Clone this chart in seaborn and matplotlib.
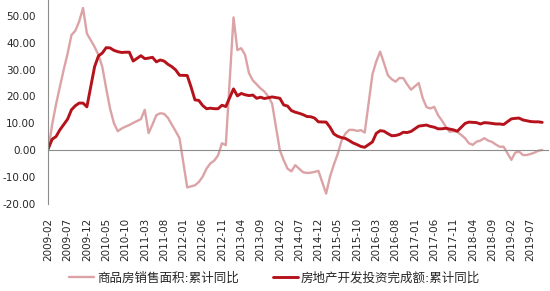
import matplotlib
matplotlib.use("Agg")
import matplotlib.pyplot as plt
import pandas as pd
import seaborn as sns

# ---- data -------------------------------------------------------------
# monthly observations (January is not published; Jan-Feb is combined)
months = [f"{y}-{m:02d}" for y in range(2009, 2020) for m in range(2, 13)][:119]

sales_area_yoy = [
    0, 9.5, 17, 23.6, 30, 36, 42.9, 44.5, 48, 53, 43.5,            # 2009
    38.5, 35.5, 31, 23, 15.5, 10, 7, 8, 8.7, 9.3, 10.1,             # 2010
    11.5, 15, 6.3, 9.5, 13, 13.7, 13.5, 12, 9.5, 7, 4.4,            # 2011
    -14, -13.6, -13.2, -12, -10, -7, -5, -4, -2, 2.5, 1.8,          # 2012
    49.5, 37.3, 38, 35.5, 28.7, 26, 24.5, 23, 21.8, 20, 17.3,       # 2013
    -0.1, -3.8, -7, -8, -5.7, -7, -8.3, -8.6, -8.5, -8.2, -7.8,     # 2014
    -16.3, -10, -5.5, -1.5, 3.5, 6.1, 7.5, 7.5, 7.1, 7.4, 6.5,      # 2015
    28.2, 33.1, 36.7, 32.4, 27.9, 26.4, 25.5, 26.9, 26.8, 24.5, 22.5,  # 2016
    25, 19.5, 16, 15.5, 16.1, 13, 11, 8.7, 6.8, 7, 6.8,             # 2017
    4.4, 2.5, 1.9, 3.1, 3.5, 4.4, 3.5, 3, 2, 1.2, 1.2,              # 2018
    -3.7, -1, -0.6, -1.9, -1.9, -1.5, -1, -0.3, 0,                  # 2019
]

invest_yoy = [
    0.5, 4, 5, 7.5, 9.5, 11.5, 15, 16.5, 17.5, 17.5, 16.1,          # 2009
    31.1, 35.1, 36.2, 38.2, 38.1, 37.2, 36.7, 36.4, 36.5, 36.5, 33.2,  # 2010
    35.2, 34.1, 34.3, 34.6, 32.9, 33.6, 33.2, 32.0, 31.1, 29.9, 27.9,  # 2011
    27.8, 23.5, 18.7, 18.5, 16.6, 15.4, 15.6, 15.4, 15.4, 16.7, 16.2,  # 2012
    22.8, 20.2, 21.1, 20.6, 20.3, 20.5, 19.3, 19.7, 19.2, 19.5, 19.8,  # 2013
    19.3, 16.8, 16.4, 14.7, 14.1, 13.7, 13.2, 12.5, 12.4, 11.9, 10.5,  # 2014
    10.4, 8.5, 6.0, 5.1, 4.6, 4.3, 3.5, 2.6, 2.0, 1.3, 1.0,         # 2015
    3.0, 6.2, 7.2, 7.0, 6.1, 5.3, 5.4, 5.8, 6.6, 6.5, 6.9,          # 2016
    8.9, 9.1, 9.3, 8.8, 8.5, 7.9, 7.9, 8.1, 7.8, 7.5, 7.0,          # 2017
    9.9, 10.4, 10.3, 10.2, 9.7, 10.2, 10.1, 9.9, 9.7, 9.7, 9.5,     # 2018
    11.6, 11.8, 11.9, 11.2, 10.9, 10.6, 10.5, 10.5, 10.3,           # 2019
]

series_names = ["商品房销售面积:累计同比", "房地产开发投资完成额:累计同比"]
y_ticks = [-20, -10, 0, 10, 20, 30, 40, 50]
x_tick_labels = [
    "2009-02", "2009-07", "2009-12", "2010-05", "2010-10", "2011-03", "2011-08",
    "2012-01", "2012-06", "2012-11", "2013-04", "2013-09", "2014-02", "2014-07",
    "2014-12", "2015-05", "2015-10", "2016-03", "2016-08", "2017-01", "2017-06",
    "2017-11", "2018-04", "2018-09", "2019-02", "2019-07",
]

# ---- helpers ----------------------------------------------------------
def month_pos(s):
    y, m = s.split("-")
    return (int(y) - 2009) * 12 + (int(m) - 2)

df = pd.DataFrame({
    "month": months,
    "x": [month_pos(m) for m in months],
    series_names[0]: sales_area_yoy,
    series_names[1]: invest_yoy,
})
tick_pos = [month_pos(s) for s in x_tick_labels]

# ---- plot -------------------------------------------------------------
sns.set_style("white")
plt.rcParams["font.family"] = ["DejaVu Sans", "Noto Sans CJK SC"]

fig = plt.figure(figsize=(5.5, 2.91), dpi=100)
ax = fig.add_axes([48.3 / 550, 87.5 / 291, 499.7 / 550, 203.5 / 291])

pink = "#DCA3A6"
red = "#B5121B"
sns.lineplot(data=df, x="x", y=series_names[0], ax=ax, color=pink,
             linewidth=1.7, label=series_names[0])
sns.lineplot(data=df, x="x", y=series_names[1], ax=ax, color=red,
             linewidth=2.1, label=series_names[1])

ax.set_xlim(0, 129.5)
ax.set_ylim(-20, 56)
ax.set_xlabel("")
ax.set_ylabel("")

ax.set_yticks(y_ticks)
ax.set_yticklabels([f"{v:.2f}" for v in y_ticks])
ax.tick_params(axis="y", direction="out", length=4, width=0.8,
               color="#8c8c8c", labelsize=7.5, labelcolor="#262626", pad=5)

for s in ["top", "right"]:
    ax.spines[s].set_visible(False)
ax.spines["left"].set_color("#8c8c8c")
ax.spines["left"].set_linewidth(0.8)
ax.spines["bottom"].set_position(("data", 0))
ax.spines["bottom"].set_color("#8c8c8c")
ax.spines["bottom"].set_linewidth(0.8)

ax.set_xticks(tick_pos)
ax.tick_params(axis="x", direction="out", length=4, width=0.8,
               color="#8c8c8c", labelbottom=False)

sec = ax.secondary_xaxis("bottom")
sec.set_xticks(tick_pos)
sec.set_xticklabels(x_tick_labels, rotation=90)
sec.tick_params(length=0, pad=10, labelsize=7.5, labelcolor="#262626")
sec.spines["bottom"].set_visible(False)

handles, labels = ax.get_legend_handles_labels()
ax.get_legend().remove()
fig.legend(handles, labels, loc="center", bbox_to_anchor=(0.499, 0.045),
           ncol=2, frameon=False, fontsize=9, handlelength=2.0,
           handletextpad=0.25, columnspacing=2.7, labelcolor="#262626")

fig.savefig("out.png", dpi=100, facecolor="white")
